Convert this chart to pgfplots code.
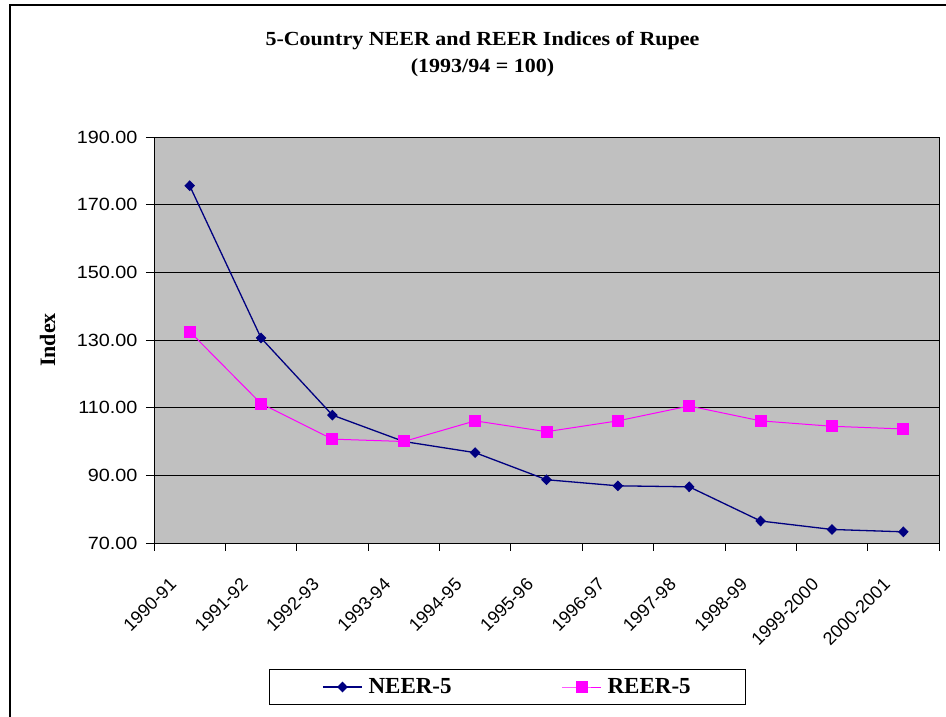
\documentclass[border=0pt]{standalone}
\usepackage{fontspec}
\setmainfont{Liberation Sans}[FakeStretch=1.12]
\newfontfamily\tickf{Liberation Sans}
\newfontfamily\titlef{Liberation Serif}[FakeStretch=1.1]
\newfontfamily\idxf{Liberation Serif}
\newfontfamily\legf{Liberation Serif}
\usepackage{pgfplots}
\pgfplotsset{compat=1.18}
\definecolor{neer}{RGB}{0,0,128}
\definecolor{reer}{RGB}{255,0,255}
\definecolor{plotbg}{RGB}{192,192,192}
\begin{document}
\begin{tikzpicture}
\useasboundingbox (0pt,0pt) rectangle (946pt,717pt);
\draw[line width=1.5pt] (10pt,-10pt) -- (10pt,712pt) -- (960pt,712pt);
\node[font=\titlef\bfseries\fontsize{20}{27}\selectfont, align=center] at (482.5pt,663pt) {5-Country NEER and REER Indices of Rupee\\(1993/94 = 100)};
\begin{axis}[
  at={(154pt,174pt)}, anchor=south west, scale only axis,
  width=785pt, height=406pt,
  xmin=-0.5, xmax=10.5, ymin=70, ymax=190,
  ytick={70,90,...,190},
  axis background/.style={fill=plotbg},
  ymajorgrids, grid style={black, line width=0.8pt},
  axis line style={black, line width=0.8pt},
  tick align=outside, xtick pos=bottom, ytick pos=left,
  major tick length=8pt, tick style={black, line width=0.8pt},
  xtick={-0.5,0.5,...,10.5}, xticklabels={},
  extra x ticks={0,1,2,3,4,5,6,7,8,9,10},
  extra x tick labels={1990-91,1991-92,1992-93,1993-94,1994-95,1995-96,1996-97,1997-98,1998-99,1999-2000,2000-2001},
  extra x tick style={major tick length=0pt},
  xticklabel style={font=\tickf\fontsize{18}{20}\selectfont, xshift=-14pt, yshift=-36pt, rotate=45, anchor=east},
  yticklabel style={font=\fontsize{17.7}{20}\selectfont, xshift=-5pt, /pgf/number format/.cd, fixed, fixed zerofill, precision=2, assume math mode=true},
  ylabel={Index},
  ylabel style={font=\idxf\bfseries\fontsize{22}{24}\selectfont, at={(axis description cs:-0.1355,0.5)}, anchor=center},
  legend columns=2,
  legend style={at={(0.4503,-0.3547)}, anchor=center, draw=black, line width=0.8pt,
    font=\legf\bfseries\fontsize{23}{25}\selectfont, inner xsep=53pt, inner ysep=7pt,
    /tikz/every odd column/.append style={column sep=4pt},
    /tikz/every even column/.append style={column sep=108pt}},
  legend image code/.code={\draw[mark repeat=2,mark phase=2,#1] plot coordinates {(0pt,0pt)(19.5pt,0pt)(39pt,0pt)};},
]
\addplot[color=neer, line width=1.3pt, mark=diamond*, mark size=4.5pt, mark options={solid, fill=neer, xscale=1.3}] coordinates {
(0,175.6) (1,130.6) (2,107.8) (3,100.0) (4,96.7) (5,88.7) (6,86.9) (7,86.6) (8,76.5) (9,74.0) (10,73.3)
};
\addlegendentry{NEER-5}
\addplot[color=reer, line width=1pt, mark=square*, mark size=5.5pt, mark options={solid, fill=reer}] coordinates {
(0,132.5) (1,111.2) (2,100.7) (3,100.0) (4,106.1) (5,102.9) (6,106.1) (7,110.5) (8,106.1) (9,104.5) (10,103.7)
};
\addlegendentry{REER-5}
\end{axis}
\end{tikzpicture}
\end{document}
